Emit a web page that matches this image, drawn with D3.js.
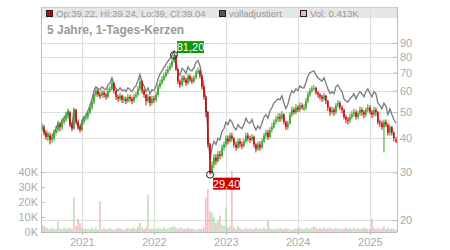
<!DOCTYPE html>
<html lang="de">
<head>
<meta charset="UTF-8" />
<title>5 Jahre Chart</title>
<style>
  body { margin: 0; background: #fff; }
  svg { display: block; font-family: "Liberation Sans", Arial, sans-serif; }
  .axis path, .axis line { stroke: #bbb; }
  .axis text { fill: #aaa; font-size: 11px; }
</style>
</head>
<body>
<div id="chart"></div>
<script src="https://d3js.org/d3.v7.min.js"></script>
<script>
  // one candle roughly every 10 days
  const startDate = new Date(2020, 5, 12);
  const stepDays = 10.15;

  const closes = [
    44, 42, 40.5, 41,
    39.5, 40, 42, 43, 45, 44,
    46, 47, 48.5, 50, 45, 43.5,
    51, 46, 44, 43,
    46, 47.5, 48, 50, 52, 54.5,
    58, 60, 58, 57.5, 59, 58, 57,
    60, 61, 64, 60,
    57, 56, 57.5, 55.5, 56, 55, 57, 56,
    55, 57, 58, 61, 65,
    60, 58, 55, 57, 54, 56, 55.5,
    58, 62, 64, 66, 68, 70, 72, 74,
    77, 81.2, 72,
    65, 63, 67, 66, 64, 68, 66, 65, 67,
    70, 71, 68,
    62, 57, 50,
    38, 29.8, 32,
    34, 33, 35, 34.5, 37,
    38, 40, 39, 41, 40,
    38, 37, 39, 38, 37.5,
    39, 41, 40, 39.5, 40.5,
    38, 36.5, 38, 37, 39,
    41, 42, 40.5, 43, 44,
    46, 47, 48, 47.5, 49,
    46, 44, 45.5,
    49, 51, 50, 52, 51, 53, 52, 52,
    55, 58, 60, 61, 61.5,
    59, 58, 57, 56, 57.5, 55,
    52, 50, 51, 50,
    53, 54, 52, 51,
    48, 47, 46.5, 48,
    49, 50, 48, 49.5, 51,
    50, 49, 51, 52, 50, 49, 51, 50,
    46, 45.5, 44, 46, 45,
    42, 44, 42, 40, 39.04
  ];

  const highs = [
    45.5, 45, 43, 42.5, 42, 41.5, 43, 44.5, 46.5, 46,
    47.5, 48.5, 50, 51.5, 50.5, 46, 52, 51.5, 47, 45,
    47, 48.5, 49.5, 51, 53, 56, 59.5, 61.5, 61, 59.5,
    60.5, 60, 59, 61.5, 62.5, 66, 64.5, 60.5, 58, 59,
    58, 57.5, 57, 58.5, 58, 57, 58.5, 59.5, 62.5, 67,
    65.5, 61, 58.5, 58.5, 57.5, 57.5, 57.5, 59.5, 63.5, 66,
    68, 70, 72, 74, 76, 79, 81.2, 80, 72.5, 66,
    68.5, 68.5, 67, 69.5, 69, 67.5, 68.5, 71.5, 73, 72,
    68.5, 62.5, 57.5, 50.5, 38.5, 33, 35, 35, 36, 36,
    38, 39, 41, 41, 42, 42, 40.5, 39, 40, 40,
    39, 40, 42, 42, 41, 41.5, 41, 38.5, 39, 39,
    40, 42, 43, 43, 44, 45.5, 47, 48.5, 49.5, 49.5,
    50.5, 49.5, 46.5, 46.5, 50, 52.5, 52, 53.5, 53, 54.5,
    54, 53.5, 56.5, 59.5, 61.5, 62.5, 63, 62, 60, 59,
    58, 59, 58, 55.5, 52.5, 52.5, 52, 54, 55.5, 55,
    53, 51.5, 49, 48, 49.5, 50.5, 51.5, 51, 50.5, 52.5,
    52, 51, 52, 53.5, 53, 51, 52.5, 52, 50.5, 47,
    46.5, 47, 47, 45.5, 45, 44.5, 42.5, 40.5
  ];

  const lows = [
    42.5, 41, 39.5, 39, 38, 38.5, 39, 41, 42, 42.5,
    43, 45, 46, 47.5, 44, 42.5, 43, 45, 43, 42,
    42.5, 45, 46.5, 47, 49, 51, 53.5, 57, 57, 56,
    56.5, 56.5, 55.5, 56, 59, 60, 58.5, 55.5, 54.5, 55,
    54, 54, 53.5, 54, 54.5, 53.5, 54, 56, 57, 60,
    58.5, 56.5, 53, 54, 52.5, 53, 54, 54.5, 57, 61,
    63, 65, 67, 69, 71, 73, 76, 71, 63.5, 61.5,
    62, 64.5, 62.5, 63, 64.5, 63.5, 64, 66, 69, 66.5,
    60.5, 55.5, 48, 37, 29.4, 29.6, 31, 32, 32.5, 33.5,
    34, 36, 37, 38, 38.5, 39, 37, 36, 36.5, 37,
    36.5, 37, 38.5, 39, 38.5, 39, 37, 35.5, 36, 36,
    36.5, 38.5, 40, 39.5, 40, 42, 43.5, 45, 46, 46,
    46.5, 45, 43, 43, 45, 48, 49, 49, 50, 50,
    51, 50.5, 51, 54, 57, 59, 60, 58, 56.5, 55.5,
    54.5, 55, 53.5, 50.5, 48.5, 49, 48.5, 49, 52, 51,
    49.5, 47, 45.5, 45, 45.5, 47, 48, 47, 47, 48.5,
    48.5, 47.5, 48, 50, 49, 47.5, 48, 48.5, 45, 44,
    43, 35.5, 44, 41, 41, 41, 39, 38.5
  ];

  const adjusted = [
    44.5, 42.5, 41, 41.5,
    40, 40.5, 42.5, 43.5, 45.5, 44.5,
    46.5, 47.5, 49, 50.5, 45.5, 44,
    51.5, 46.5, 44.5, 43.5,
    46.5, 48, 48.5, 50.5, 53, 56,
    60, 62, 61, 60.5, 62, 61, 60.5,
    63, 64, 67, 63.5,
    61, 60, 61.5, 60, 60.5, 59.5, 61.5, 60.5,
    59.5, 61.5, 62.5, 65.5, 69,
    64.5, 62.5, 59.5, 61.5, 58.5, 60.5, 60,
    62.5, 66.5, 69, 71, 73, 75, 77, 79,
    81, 84, 77,
    70.5, 68.5, 72.5, 71.5, 69.5, 73.5, 71.5, 71, 73,
    76.5, 77.5, 74,
    68, 62.5, 55,
    42, 33.5, 37,
    39, 38, 40, 39.5, 42.5,
    43.5, 46, 45, 47, 46,
    44, 43, 45, 44, 43.5,
    45, 47.5, 46, 45.5, 47,
    44.5, 43, 44.5, 43.5, 45.5,
    48, 49, 47.5, 50.5, 52,
    54, 55, 56, 55.5, 57.5,
    54, 51.5, 53.5,
    57.5, 60, 59, 61, 60, 62.5, 61.5, 61.5,
    64.5, 68, 70, 70.5, 71,
    68.5, 67, 66, 65, 67, 64,
    61, 58.5, 59.5, 58.5,
    62, 63, 61, 59.5,
    56, 55, 54.5, 56,
    57, 58.5, 56, 58, 59.5,
    58.5, 57, 59.5, 61, 58.5, 57, 59.5, 58.5,
    54, 53, 51.5, 54, 52.5,
    49, 51.5, 49, 47, 45.5
  ];

  // volume in thousands
  const volumes = [
    5, 4, 3, 2.5,
    2, 3, 2, 2, 7, 2.5,
    2, 3, 2, 2.5, 3, 2,
    23, 4, 9, 6,
    3, 2, 2.5, 2, 2, 3,
    2, 3, 1.5, 20.5, 2, 2.5, 2,
    2, 3, 2, 1.5,
    2, 3, 2.5, 2, 1.5, 2, 3, 2,
    2.5, 3, 2, 3.5, 6,
    3, 2, 3, 24.5, 2, 2.5, 2,
    2, 3, 2.5, 2, 3, 2, 2.5, 3,
    3.5, 4, 3,
    2, 3, 2.5, 2, 2, 3, 2, 2.5, 2,
    1.5, 2, 2,
    2, 3, 23,
    28.5, 14, 13,
    10, 6, 8, 11, 5,
    4, 16.5, 3, 4, 41,
    3, 2, 4, 2.5, 2,
    2, 3, 2, 2.5, 2,
    2, 3, 2, 2.5, 2,
    3, 2, 8, 2.5, 2,
    2, 2.5, 2, 3, 2,
    2, 2.5, 2,
    2, 1.5, 2, 2.5, 2, 3, 2, 2,
    3, 2.5, 2, 3, 4,
    3, 2, 2.5, 2, 3, 2,
    2.5, 3, 2, 2,
    3, 2, 2.5, 2,
    2, 3, 2, 2.5,
    2, 3, 2, 2.5, 2,
    2, 3, 2.5, 2, 2, 9, 3, 2,
    3, 2, 2.5, 4, 2,
    3, 2, 2.5, 2, 1.5
  ];

  const priceTicks = [20, 30, 40, 50, 60, 70, 80, 90];
  const volumeTicks = [0, 10, 20, 30, 40];
  const titleText = '5 Jahre, 1-Tages-Kerzen';
  const legendItems = [
    {label: 'Op:39.22, Hi:39.24, Lo:39, Cl:39.04', color: '#b01010'},
    {label: 'volladjustiert', color: '#555'},
    {label: 'Vol: 0.413K', color: '#f2b3ba'}
  ];
  const highLabel = '81,20';
  const lowLabel = '29,40';

  const W = 450, H = 250;
  const pLeft = 41, pRight = 397, pTop = 7, pBottom = 232;

  const data = closes.map((c, i) => ({
    date: d3.timeDay.offset(startDate, Math.round(i * stepDays)),
    open: i ? closes[i - 1] : c,
    close: c,
    high: highs[i],
    low: lows[i],
    adj: adjusted[i],
    vol: volumes[i]
  }));

  const x = d3.scaleTime().domain(d3.extent(data, d => d.date)).range([pLeft + 1, pRight - 1]);
  const y = d3.scaleLog().domain([20, 90]).range([220, 43]);
  const yv = d3.scaleLinear().domain([0, 40]).range([pBottom, 172]);

  const svg = d3.select('#chart').append('svg').attr('width', W).attr('height', H);

  // legend band
  svg.append('rect').attr('x', pLeft).attr('y', pTop).attr('width', pRight - pLeft).attr('height', 11)
     .attr('fill', '#e6e6e6');

  // grid
  const grid = svg.append('g').attr('stroke', '#ddd').attr('shape-rendering', 'crispEdges');
  grid.selectAll('.h').data(priceTicks).join('line')
      .attr('x1', pLeft).attr('x2', pRight)
      .attr('y1', d => Math.round(y(d)) + 0.5).attr('y2', d => Math.round(y(d)) + 0.5);
  const years = x.ticks(d3.timeYear.every(1));
  grid.selectAll('.v').data(years).join('line')
      .attr('y1', pTop).attr('y2', pBottom)
      .attr('x1', d => Math.round(x(d)) + 0.5).attr('x2', d => Math.round(x(d)) + 0.5);

  // frame top
  svg.append('line').attr('x1', pLeft).attr('x2', pRight).attr('y1', pTop + 0.5).attr('y2', pTop + 0.5)
     .attr('stroke', '#ccc');

  const up = d => d.close >= d.open;

  // volume bars
  svg.append('g').selectAll('rect').data(data).join('rect')
     .attr('x', d => x(d.date) - 0.6).attr('width', 1.2)
     .attr('y', d => yv(d.vol)).attr('height', d => pBottom - yv(d.vol))
     .attr('fill', d => up(d) ? '#a3d9a0' : '#f0a8b0');

  // adjusted line
  svg.append('path').datum(data)
     .attr('fill', 'none').attr('stroke', '#7a7a7a').attr('stroke-width', 1.3)
     .attr('d', d3.line().x(d => x(d.date)).y(d => y(d.adj)));

  // candles: wick + body
  const candles = svg.append('g');
  candles.selectAll('line').data(data).join('line')
     .attr('x1', d => x(d.date)).attr('x2', d => x(d.date))
     .attr('y1', d => y(d.high)).attr('y2', d => y(d.low))
     .attr('stroke', d => up(d) ? '#3aa32a' : '#c41010').attr('stroke-width', 1);
  candles.selectAll('rect').data(data).join('rect')
     .attr('x', d => x(d.date) - 0.8).attr('width', 1.6)
     .attr('y', d => y(Math.max(d.open, d.close)))
     .attr('height', d => Math.max(1.5, Math.abs(y(d.open) - y(d.close))))
     .attr('fill', d => up(d) ? '#3aa32a' : '#c41010');

  // axes
  svg.append('g').attr('class', 'axis').attr('transform', `translate(${pRight},0)`)
     .call(d3.axisRight(y).tickValues(priceTicks).tickFormat(d3.format('d'))
       .tickSizeInner(-4).tickSizeOuter(0).tickPadding(3))
     .call(g => g.select('.domain').attr('d', `M0.5,${pTop}V${pBottom}`));
  svg.append('g').attr('class', 'axis').attr('transform', `translate(${pLeft},0)`)
     .call(d3.axisLeft(yv).tickValues(volumeTicks).tickFormat(d => d + 'K')
       .tickSizeInner(-4).tickSizeOuter(0).tickPadding(3))
     .call(g => g.select('.domain').attr('d', `M0.5,${pTop}V${pBottom}`));
  svg.append('g').attr('class', 'axis').attr('transform', `translate(0,${pBottom})`)
     .call(d3.axisBottom(x).tickValues(years).tickFormat(d3.timeFormat('%Y'))
       .tickSizeInner(3).tickSizeOuter(0).tickPadding(3))
     .call(g => g.select('.domain').attr('d', `M${pLeft},0.5H${pRight}`));

  // high / low markers
  const hi = data[d3.maxIndex(data, d => d.high)];
  const lo = data[d3.minIndex(data, d => d.low)];
  function marker(d, v, text, bg, dx, dy) {
    const cx = x(d.date), cy = y(v);
    svg.append('circle').attr('cx', cx).attr('cy', cy).attr('r', 3.5)
       .attr('fill', 'none').attr('stroke', '#222').attr('stroke-width', 1);
    const g = svg.append('g').attr('transform', `translate(${cx + dx},${cy + dy})`);
    g.append('rect').attr('width', 27).attr('height', 12).attr('fill', bg);
    g.append('text').attr('x', 13.5).attr('y', 10).attr('text-anchor', 'middle')
     .attr('fill', '#fff').attr('font-size', 11).text(text);
  }
  marker(hi, hi.high, highLabel, '#0a9a0a', 3, -14);
  marker(lo, lo.low, lowLabel, '#cc0000', 3, 3);

  // legend
  const lx = [46, 219, 300];
  legendItems.forEach((it, i) => {
    svg.append('rect').attr('x', lx[i] + 0.5).attr('y', 10.5).attr('width', 6).attr('height', 6)
       .attr('fill', it.color).attr('stroke', '#222');
    svg.append('text').attr('x', lx[i] + 10).attr('y', 16.5).attr('font-size', 9.5)
       .attr('fill', '#999').text(it.label);
  });

  // title
  svg.append('text').attr('x', 47).attr('y', 34).attr('font-size', 12).attr('font-weight', 'bold')
     .attr('fill', '#999').text(titleText);
</script>
</body>
</html>
